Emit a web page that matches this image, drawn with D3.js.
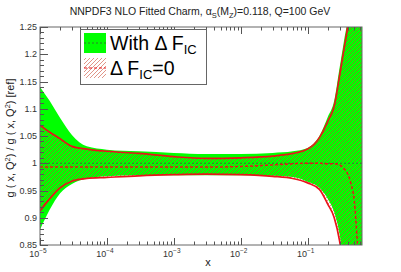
<!DOCTYPE html>
<html>
<head>
<meta charset="utf-8">
<script src="https://cdn.jsdelivr.net/npm/d3@7"></script>
<style>
  body { margin: 0; background: #fff; }
  svg { display: block; font-family: "Liberation Sans", Arial, sans-serif; }
</style>
</head>
<body>
<svg id="chart" width="401" height="272"></svg>
<script>
// x grid of the curves
const xs = [1e-5, 1.4e-5, 2e-5, 3e-5, 5e-5, 1e-4, 3e-4, 1e-3, 3e-3, 1e-2, 3e-2, 0.06, 0.1, 0.15, 0.2, 0.25, 0.3, 0.35, 0.4, 0.45, 0.5, 0.55, 0.6, 0.65];

// With Delta F_IC (green band + central)
const greenHi = [1.14, 1.114, 1.083, 1.052, 1.031, 1.025, 1.022, 1.019, 1.017, 1.017, 1.019, 1.022, 1.028, 1.05, 1.085, 1.115, 1.175, 1.225, 1.27, 1.35, 1.45, 1.6, 1.8, 2.0];
const greenLo = [0.878, 0.915, 0.945, 0.962, 0.972, 0.976, 0.978, 0.978, 0.978, 0.978, 0.977, 0.975, 0.966, 0.955, 0.935, 0.91, 0.87, 0.81, 0.75, 0.68, 0.6, 0.5, 0.4, 0.3];
const greenMid = [1, 1, 1, 1, 1, 1, 1, 1, 1, 1, 1, 1, 1, 1, 1, 1, 1, 1, 1, 1, 1, 1, 1, 1];

// Delta F_IC = 0 (red hatched band + central)
const redHi = [1.07, 1.057, 1.045, 1.031, 1.026, 1.022, 1.018, 1.012, 1.009, 1.01, 1.013, 1.018, 1.026, 1.047, 1.077, 1.105, 1.16, 1.21, 1.255, 1.33, 1.43, 1.57, 1.75, 1.95];
const redLo = [0.912, 0.935, 0.955, 0.967, 0.972, 0.974, 0.977, 0.979, 0.98, 0.979, 0.976, 0.972, 0.964, 0.952, 0.925, 0.9, 0.858, 0.8, 0.73, 0.65, 0.55, 0.45, 0.35, 0.25];
const redMid = [0.993, 0.993, 0.993, 0.993, 0.993, 0.993, 0.993, 0.993, 0.993, 0.994, 0.997, 0.999, 1.0, 1.0, 0.999, 0.999, 0.997, 0.99, 0.98, 0.96, 0.93, 0.86, 0.78, 0.7];

const yTicks = [0.85, 0.9, 0.95, 1, 1.05, 1.1, 1.15, 1.2, 1.25];
const yTickLabels = ["0.85", "0.9", "0.95", "1", "1.05", "1.1", "1.15", "1.2", "1.25"];
const xDecades = [1e-5, 1e-4, 1e-3, 1e-2, 1e-1];
const xExponents = ["-5", "-4", "-3", "-2", "-1"];

const plot = { left: 40, right: 362, top: 27, bottom: 245 };

let svg = d3.select("#chart");

let x = d3.scaleLog().domain([1e-5, 0.65]).range([plot.left, plot.right]);
let y = d3.scaleLinear().domain([0.85, 1.25]).range([plot.bottom, plot.top]);

let defs = svg.append("defs");
defs.append("clipPath").attr("id", "clip")
    .append("rect")
    .attr("x", plot.left).attr("y", plot.top)
    .attr("width", plot.right - plot.left).attr("height", plot.bottom - plot.top);

let hatch = defs.append("pattern")
    .attr("id", "hatch")
    .attr("patternUnits", "userSpaceOnUse")
    .attr("width", 4).attr("height", 4);
hatch.append("path")
    .attr("d", "M-1,1 L1,-1 M0,4 L4,0 M3,5 L5,3")
    .attr("stroke", "#c8402a")
    .attr("stroke-width", 0.8)
    .attr("stroke-opacity", 0.7);

let rows = xs.map((v, i) => ({
    x: v, gHi: greenHi[i], gLo: greenLo[i], gMid: greenMid[i],
    rHi: redHi[i], rLo: redLo[i], rMid: redMid[i]
}));

let curve = d3.curveMonotoneX;

let band = (lo, hi) => d3.area()
    .x(d => x(d.x)).y0(d => y(d[lo])).y1(d => y(d[hi]))
    .curve(curve);
let line = key => d3.line()
    .x(d => x(d.x)).y(d => y(d[key]))
    .curve(curve);

let g = svg.append("g").attr("clip-path", "url(#clip)");

g.append("path").datum(rows)
    .attr("d", band("gLo", "gHi"))
    .attr("fill", "#00ff00");

g.append("path").datum(rows)
    .attr("d", band("rLo", "rHi"))
    .attr("fill", "url(#hatch)");

["rHi", "rLo"].forEach(k => {
    g.append("path").datum(rows)
        .attr("d", line(k))
        .attr("fill", "none")
        .attr("stroke", "#e8141a")
        .attr("stroke-width", 1.7);
});

g.append("path").datum(rows)
    .attr("d", line("gMid"))
    .attr("fill", "none")
    .attr("stroke", "#2e7d2e")
    .attr("stroke-width", 1.2)
    .attr("stroke-dasharray", "2,2");

g.append("path").datum(rows)
    .attr("d", line("rMid"))
    .attr("fill", "none")
    .attr("stroke", "#e8141a")
    .attr("stroke-width", 1.5)
    .attr("stroke-dasharray", "3,2");

// frame
svg.append("rect")
    .attr("x", plot.left).attr("y", plot.top)
    .attr("width", plot.right - plot.left).attr("height", plot.bottom - plot.top)
    .attr("fill", "none")
    .attr("stroke", "#666")
    .attr("stroke-width", 1);

// y ticks (inside, left side)
let yMinor = d3.range(85, 126).map(v => v / 100);
let axisCol = "#555";
svg.append("g").selectAll("line")
    .data(yMinor)
    .join("line")
    .attr("x1", plot.left)
    .attr("x2", d => plot.left + (yTicks.some(t => Math.abs(t - d) < 1e-6) ? 8 : 4))
    .attr("y1", d => Math.round(y(d)) + 0.5)
    .attr("y2", d => Math.round(y(d)) + 0.5)
    .attr("stroke", axisCol);

svg.append("g").selectAll("text")
    .data(yTicks)
    .join("text")
    .attr("x", plot.left - 3)
    .attr("y", d => y(d) + 3)
    .attr("text-anchor", "end")
    .attr("font-size", 9)
    .attr("fill", "#333")
    .text((d, i) => yTickLabels[i]);

// x ticks (inside, bottom and top)
let xMinor = [];
xDecades.forEach(dec => {
    for (let k = 1; k <= 9; k++) {
        let v = dec * k;
        if (v <= 0.65) xMinor.push({ v: v, major: k === 1 });
    }
});
[[plot.bottom, -1], [plot.top, 1]].forEach(([y0, dir]) => {
    svg.append("g").selectAll("line")
        .data(xMinor)
        .join("line")
        .attr("x1", d => Math.round(x(d.v)) + 0.5)
        .attr("x2", d => Math.round(x(d.v)) + 0.5)
        .attr("y1", y0)
        .attr("y2", d => y0 + dir * (d.major ? 7 : 3.5))
        .attr("stroke", axisCol);
});

let xl = svg.append("g").selectAll("text")
    .data(xDecades)
    .join("text")
    .attr("x", d => x(d) - 2)
    .attr("y", 257)
    .attr("text-anchor", "middle")
    .attr("font-size", 9)
    .attr("fill", "#333");
xl.append("tspan").text("10");
xl.append("tspan")
    .attr("dy", -4)
    .attr("font-size", 6.5)
    .text((d, i) => "\u2212" + xExponents[i].slice(1));

// axis titles
svg.append("text")
    .attr("x", 208).attr("y", 266)
    .attr("text-anchor", "middle")
    .attr("font-size", 11)
    .attr("fill", "#222")
    .text("x");

let yt = svg.append("text")
    .attr("transform", "translate(14,138) rotate(-90)")
    .attr("text-anchor", "middle")
    .attr("font-size", 11)
    .attr("fill", "#222");
yt.append("tspan").text("g ( x, Q");
yt.append("tspan").attr("dy", -4).attr("font-size", 7.5).text("2");
yt.append("tspan").attr("dy", 4).text(") / g ( x, Q");
yt.append("tspan").attr("dy", -4).attr("font-size", 7.5).text("2");
yt.append("tspan").attr("dy", 4).text(") [ref]");

// title
let tt = svg.append("text")
    .attr("x", 200).attr("y", 15)
    .attr("text-anchor", "middle")
    .attr("font-size", 10.5)
    .attr("fill", "#222");
tt.append("tspan").text("NNPDF3 NLO Fitted Charm, \u03b1");
tt.append("tspan").attr("dy", 2.5).attr("font-size", 7.5).text("S");
tt.append("tspan").attr("dy", -2.5).text("(M");
tt.append("tspan").attr("dy", 2.5).attr("font-size", 7.5).text("Z");
tt.append("tspan").attr("dy", -2.5).text(")=0.118, Q=100 GeV");

// legend
let leg = svg.append("g");
leg.append("rect")
    .attr("x", 80.5).attr("y", 29.5)
    .attr("width", 126).attr("height", 55)
    .attr("fill", "#fff")
    .attr("stroke", "#666");

let entries = [
    { fill: "#00ff00", dash: "#2e7d2e", dashArr: "2,2", label: "With \u0394 F", sub: "IC", after: "", y0: 33 },
    { fill: "url(#hatch)", dash: "#e8141a", dashArr: "3,2", label: "\u0394 F", sub: "IC", after: "=0", y0: 58 }
];
entries.forEach(e => {
    leg.append("rect")
        .attr("x", 84).attr("y", e.y0)
        .attr("width", 22).attr("height", 20)
        .attr("fill", e.fill);
    leg.append("line")
        .attr("x1", 84).attr("x2", 106)
        .attr("y1", e.y0 + 10).attr("y2", e.y0 + 10)
        .attr("stroke", e.dash)
        .attr("stroke-width", 1)
        .attr("stroke-dasharray", e.dashArr);
    let t = leg.append("text")
        .attr("x", 110).attr("y", e.y0 + 17)
        .attr("font-size", 19.5)
        .attr("fill", "#000");
    t.append("tspan").text(e.label);
    t.append("tspan").attr("dy", 4).attr("font-size", 13).text(e.sub);
    if (e.after) t.append("tspan").attr("dy", -4).text(e.after);
});
</script>
</body>
</html>
